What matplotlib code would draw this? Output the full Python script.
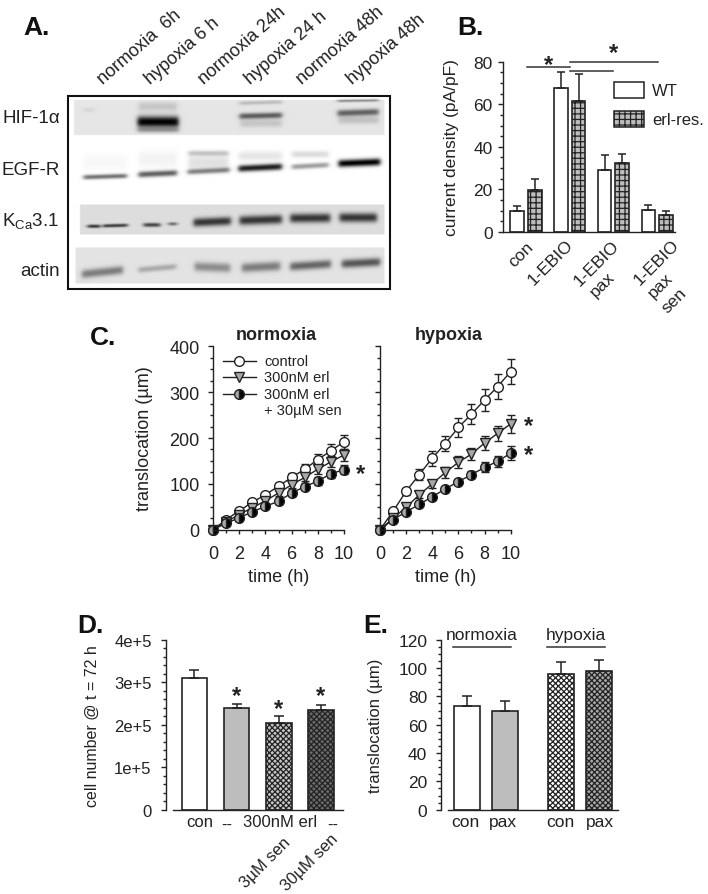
import numpy as np
import matplotlib
matplotlib.use("Agg")
import matplotlib.pyplot as plt
from matplotlib.ticker import MultipleLocator
from matplotlib.patches import Rectangle

plt.rcParams.update({
    "font.family": ["Liberation Sans", "DejaVu Sans"],
    "mathtext.fontset": "custom",
    "mathtext.rm": "Liberation Sans",
    "mathtext.default": "regular",
    "hatch.linewidth": 0.9,
    "text.color": "#222222",
    "axes.labelcolor": "#222222",
    "xtick.labelcolor": "#222222",
    "ytick.labelcolor": "#222222",
})

# ---------- data ----------
lane_labels = ["normoxia  6h", "hypoxia 6 h", "normoxia 24h", "hypoxia 24 h", "normoxia 48h", "hypoxia 48h"]
blot_labels = ["HIF-1\u03b1", "EGF-R", "K$_{Ca}$3.1", "actin"]

b_groups = ["con", "1-EBIO", "1-EBIO\npax", "1-EBIO\npax\nsen"]
b_wt = [9.8, 67.5, 29.0, 10.5]
b_wt_err = [2.4, 7.7, 7.0, 2.0]
b_res = [19.7, 61.6, 32.5, 7.8]
b_res_err = [5.3, 12.4, 4.1, 1.9]

c_time = np.arange(0, 11)
norm_control = [0, 22, 41, 60, 76, 95, 114, 132, 153, 172, 192]
norm_control_err = [0, 4, 4, 5, 6, 7, 9, 11, 12, 14, 15]
norm_erl = [0, 17, 33, 48, 63, 80, 98, 114, 132, 148, 163]
norm_erl_err = [0, 3, 4, 4, 5, 6, 7, 8, 10, 12, 14]
norm_sen = [0, 14, 26, 39, 51, 62, 80, 94, 106, 122, 131]
norm_sen_err = [0, 3, 3, 4, 4, 5, 6, 7, 8, 9, 10]
hyp_control = [0, 40, 84, 120, 156, 188, 223, 252, 283, 312, 345]
hyp_control_err = [0, 4, 8, 12, 16, 17, 20, 22, 24, 27, 28]
hyp_erl = [0, 25, 49, 76, 100, 125, 147, 165, 189, 210, 231]
hyp_erl_err = [0, 3, 5, 7, 9, 12, 13, 14, 15, 17, 20]
hyp_sen = [0, 22, 39, 55, 72, 89, 105, 120, 136, 149, 167]
hyp_sen_err = [0, 2, 3, 3, 4, 5, 6, 8, 11, 12, 15]

d_values = [3.10e5, 2.39e5, 2.05e5, 2.345e5]
d_errs = [0.19e5, 0.10e5, 0.15e5, 0.115e5]

e_labels = ["con", "pax", "con", "pax"]
e_values = [73, 70, 95.5, 98]
e_errs = [7, 6.5, 9, 7.5]

W, H = 708, 895
fig = plt.figure(figsize=(W / 100, H / 100), dpi=100, facecolor="white")
INK = "#222222"


def axes_px(l, t, r, b):
    ax = fig.add_axes([l / W, 1 - b / H, (r - l) / W, (b - t) / H])
    ax.patch.set_alpha(0)
    for s in ("top", "right"):
        ax.spines[s].set_visible(False)
    for s in ("left", "bottom"):
        ax.spines[s].set_linewidth(1.0)
        ax.spines[s].set_color(INK)
    return ax


def style_y(ax, major, minor, fs, pad):
    ax.yaxis.set_major_locator(MultipleLocator(major))
    ax.yaxis.set_minor_locator(MultipleLocator(minor))
    ax.tick_params(axis="y", which="major", length=3.6, width=1, labelsize=fs, pad=pad, color=INK)
    ax.tick_params(axis="y", which="minor", length=2, width=1, color=INK)


def idx_xlim(ax, first_center, spacing, left, right):
    ax.set_xlim((left - first_center) / spacing, (right - first_center) / spacing)


# ---------- overlay in pixel coordinates ----------
ov = fig.add_axes([0, 0, 1, 1], zorder=10)
ov.set_xlim(0, W)
ov.set_ylim(H, 0)
ov.axis("off")
ov.patch.set_alpha(0)


def label(x, y, s, fs=12, **kw):
    kw.setdefault("ha", "center")
    kw.setdefault("va", "center")
    ov.text(x, y, s, fontsize=fs, **kw)


def star(x, y, fs=17):
    em = fs / 0.72
    ov.text(x, y + 0.46 * em, "*", fontsize=fs, fontweight="bold", ha="center", va="baseline")


def panel(x, y, s):
    ov.text(x, y, s, fontsize=19, fontweight="bold", color="#111111", ha="left", va="baseline")


def rot(x, y, s, fs=12, ang=45):
    ov.text(x, y, s, fontsize=fs, rotation=ang, rotation_mode="anchor", ha="right", va="center")


for x, y, s in [(23, 35, "A."), (457, 35, "B."), (90, 345, "C."), (77, 633, "D."), (363, 633, "E.")]:
    panel(x, y, s)

# ---------- panel A: blot image ----------
yy, xx = np.mgrid[97:290:0.5, 68:390:0.5]
img = np.ones_like(xx)
# strip backgrounds: left, top, right, bottom (zoom units), grey
for l, t, r, b, g in [(222, 303, 1153, 407, 0.90), (239, 616, 1153, 705, 0.87), (226, 745, 1153, 852, 0.89)]:
    m = (xx >= l / 3) & (xx <= r / 3) & (yy >= t / 3) & (yy <= b / 3)
    img[m] = g

# bands: x0, x1, y at left, y at right, half height, darkness (zoom units)
bands = [
    (250, 280, 332, 332, 6, 0.08), (415, 530, 322, 322, 14, 0.14), (412, 535, 368, 368, 17, 1.0),
    (412, 535, 392, 392, 8, 0.3), (718, 845, 312, 308, 6, 0.18), (718, 845, 351, 348, 9, 0.6),
    (720, 845, 372, 372, 12, 0.14), (1012, 1135, 305, 303, 4, 0.4), (1012, 1135, 342, 338, 10, 0.58),
    (1015, 1135, 362, 362, 12, 0.16),
    (250, 380, 534, 530, 7, 0.55), (250, 380, 490, 490, 25, 0.03), (415, 530, 526, 521, 9, 0.62),
    (415, 530, 480, 480, 25, 0.05), (562, 688, 518, 512, 8, 0.48), (565, 685, 462, 462, 8, 0.22),
    (565, 685, 490, 490, 24, 0.12), (715, 845, 508, 502, 10, 0.88), (715, 845, 470, 470, 14, 0.1),
    (875, 985, 503, 497, 8, 0.38), (875, 985, 465, 465, 10, 0.14), (1015, 1140, 493, 488, 11, 1.0),
    (262, 300, 681, 681, 5, 0.8), (308, 382, 680, 678, 5, 0.75), (430, 480, 677, 677, 6, 0.7),
    (505, 530, 674, 674, 5, 0.55), (580, 692, 670, 665, 13, 0.76), (718, 845, 664, 660, 14, 0.76),
    (870, 990, 657, 656, 14, 0.76), (1018, 1130, 655, 655, 14, 0.76),
    (245, 368, 825, 812, 13, 0.45), (415, 528, 812, 802, 9, 0.25), (583, 690, 802, 806, 14, 0.38),
    (725, 840, 806, 800, 14, 0.45), (870, 992, 802, 794, 13, 0.55), (1025, 1140, 794, 788, 13, 0.62),
]
for x0, x1, y0, y1, h, dk in bands:
    x0, x1, y0, y1, h = x0 / 3, x1 / 3, y0 / 3, y1 / 3, h / 3
    yc = y0 + (y1 - y0) * (xx - x0) / (x1 - x0)
    sx = 0.5 * (np.tanh((xx - x0) / 2.5) - np.tanh((xx - x1) / 2.5))
    sy = np.exp(-np.abs((yy - yc) / h) ** 2.2)
    img *= 1 - dk * sx * sy

ov.imshow(img, cmap="gray", vmin=0, vmax=1, extent=(68, 390, 290, 97), aspect="auto",
          interpolation="bilinear", zorder=1)
ov.add_patch(Rectangle((68, 97), 321.5, 193, fill=False, ec="#111111", lw=1.5, zorder=3))
ov.set_xlim(0, W)
ov.set_ylim(H, 0)

for (x, y), s in zip([(103, 85), (150, 85), (204, 85), (250, 85), (302, 85), (352, 85)], lane_labels):
    ov.text(x, y, s, fontsize=13, rotation=41, rotation_mode="anchor", ha="left", va="baseline")
for (x, y), s in zip([(60, 118), (60, 170), (59, 221), (59.5, 271)], blot_labels):
    label(x, y, s, fs=13.5, ha="right")

# ---------- panel B ----------
axb = axes_px(502.7, 62.7, 675, 233)
axb.set_ylim(0, 80)
idx_xlim(axb, 526, 43.7, 502.7, 675)
style_y(axb, 20, 5, 12.5, 3.6)
axb.set_xticks([])
px = np.arange(len(b_groups))
off, bw = 8.8 / 43.7, 13.6 / 43.7
for vals, errs, sgn, fc, ht in [(b_wt, b_wt_err, -1, "white", None), (b_res, b_res_err, 1, "#bdbdbd", "+++")]:
    axb.bar(px + sgn * off, vals, bw, yerr=[np.zeros(4), errs], facecolor=fc, edgecolor=INK, linewidth=1.2,
            hatch=ht, error_kw=dict(ecolor=INK, elinewidth=1.1, capsize=3, capthick=1.1))
axb.set_ylabel("current density (pA/pF)", fontsize=12.5)
axb.yaxis.set_label_coords((459 - 502.7) / (675 - 502.7), 0.5)

for xa, xb_, y in [(527.3, 570, 68), (570, 657.7, 63.3), (570, 613.3, 71.7)]:
    ov.plot([xa, xb_], [y, y], color="#333333", lw=1.1)
star(548.3, 60.7)
star(613.3, 49)
ov.add_patch(Rectangle((614, 83.3), 30, 16, fc="white", ec=INK, lw=1.1))
ov.add_patch(Rectangle((614, 112.3), 30, 15.4, fc="#bdbdbd", ec=INK, lw=1.1, hatch="+++"))
label(652, 91, "WT", fs=12, ha="left")
label(652, 120.7, "erl-res.", fs=12, ha="left")
rot(531, 245, "con", fs=12.5)
rot(570.7, 243, "1-EBIO", fs=12.5)
rot(617, 244, "1-EBIO", fs=12.5)
rot(612.7, 275, "pax", fs=12.5)
rot(677, 243, "1-EBIO", fs=12.5)
rot(670.7, 275.6, "pax", fs=12.5)
rot(684, 291, "sen", fs=12.5)

# ---------- panel C ----------
styles = [
    dict(marker="o", mfc="white", mec=INK),
    dict(marker="v", mfc="#a8a8a8", mec=INK),
    dict(marker="o", mfc="black", mfcalt="#a8a8a8", mec=INK),
]


def marker_kw(st):
    kw = dict(marker=st["marker"], markerfacecolor=st["mfc"], markeredgecolor=st["mec"],
              markersize=7, markeredgewidth=1.0)
    if "mfcalt" in st:
        kw.update(fillstyle="right", markerfacecoloralt=st["mfcalt"])
    return kw


def draw_c(ax, series):
    ax.set_xlim(0, 10)
    ax.set_ylim(0, 400)
    ax.xaxis.set_major_locator(MultipleLocator(2))
    ax.xaxis.set_minor_locator(MultipleLocator(1))
    ax.tick_params(axis="x", which="major", length=3.2, width=1, labelsize=13, pad=7.5, color=INK)
    ax.tick_params(axis="x", which="minor", length=2, width=1, color=INK)
    style_y(ax, 100, 25, 13, 6)
    for (v, e), st in zip(series, styles):
        ax.errorbar(c_time, v, yerr=e, color=INK, lw=1, elinewidth=1, capsize=3.2, capthick=1, **marker_kw(st))
    for a in ax.get_children():
        a.set_clip_on(False)
    ax.set_xlabel("time (h)", fontsize=13)
    ax.xaxis.set_label_coords(0.5, -0.211)


axc1 = axes_px(213, 347.3, 344, 530.7)
draw_c(axc1, [(norm_control, norm_control_err), (norm_erl, norm_erl_err), (norm_sen, norm_sen_err)])
axc1.set_ylabel("translocation (\u00b5m)", fontsize=13)
axc1.yaxis.set_label_coords((153 - 213) / (344 - 213), 0.5)
axc2 = axes_px(380, 347.3, 510.7, 530.7)
draw_c(axc2, [(hyp_control, hyp_control_err), (hyp_erl, hyp_erl_err), (hyp_sen, hyp_sen_err)])
axc2.tick_params(axis="y", labelleft=False)

label(276, 335, "normoxia", fs=13, fontweight="bold")
label(449, 335, "hypoxia", fs=13, fontweight="bold")
for y, st, s in zip([362, 378, 395], styles, ["control", "300nM erl", "300nM erl"]):
    ov.plot([222.7, 256], [y, y], color=INK, lw=1, zorder=5)
    ov.plot([239], [y], color=INK, zorder=6, **marker_kw(st))
    label(264, y, s, fs=10.5, ha="left")
label(264, 410.7, "+ 30\u00b5M sen", fs=10.5, ha="left")
star(360, 470)
star(529, 421.7)
star(529, 450.7)

# ---------- panel D ----------
axd = axes_px(165.7, 640.7, 343, 810.7)
axd.set_ylim(0, 4e5)
idx_xlim(axd, 194.3, 42.3, 165.7, 343)
style_y(axd, 1e5, 2e4, 12, 6.5)
axd.set_yticks([0, 1e5, 2e5, 3e5, 4e5], ["0", "1e+5", "2e+5", "3e+5", "4e+5"])
axd.set_xticks([])
axd.spines["bottom"].set_bounds((172.7 - 194.3) / 42.3, axd.get_xlim()[1])
for i, (v, e, fc, ht) in enumerate(zip(d_values, d_errs, ["white", "#bdbdbd", "#c4c4c4", "#6a6a6a"],
                                       [None, None, "xxxxxx", "xxxxxx"])):
    axd.bar(i, v, 25.5 / 42.3, yerr=[[0], [e]], facecolor=fc, edgecolor=INK, linewidth=1.2, hatch=ht,
            error_kw=dict(ecolor=INK, elinewidth=1.1, capsize=3.4, capthick=1.1))
axd.set_ylabel("cell number @ t = 72 h", fontsize=11.5)
axd.yaxis.set_label_coords((100 - 165.7) / (343 - 165.7), 0.5)
label(200, 822.7, "con", fs=12)
label(226.7, 825, "--", fs=12)
label(280, 823, "300nM erl", fs=12)
label(333, 825, "--", fs=12)
rot(288, 840, "3\u00b5M sen", fs=12)
rot(336, 837, "30\u00b5M sen", fs=12)
star(236.7, 691.7)
star(278, 705)
star(320.7, 691.7)

# ---------- panel E ----------
axe = axes_px(440.7, 640.7, 617.7, 810.7)
axe.set_ylim(0, 120)
idx_xlim(axe, 467.2, 37.6, 440.7, 617.7)
style_y(axe, 20, 5, 12.5, 6)
axe.set_xticks([])
axe.spines["bottom"].set_bounds((448 - 467.2) / 37.6, axe.get_xlim()[1])
for xp, v, e, fc, ht in zip([0, 1, 2.5, 3.5], e_values, e_errs, ["white", "#bdbdbd", "white", "#a8a8a8"],
                            [None, None, "xxxxxx", "xxxxxx"]):
    axe.bar(xp, v, 26.5 / 37.6, yerr=[[0], [e]], facecolor=fc, edgecolor=INK, linewidth=1.2, hatch=ht,
            error_kw=dict(ecolor=INK, elinewidth=1.1, capsize=3.4, capthick=1.1))
axe.set_ylabel("translocation (\u00b5m)", fontsize=12)
axe.yaxis.set_label_coords((383 - 440.7) / (617.7 - 440.7), 0.5)
for x, s in zip([465, 503, 560, 600], e_labels):
    label(x, 822.7, s, fs=12.5)
label(481.7, 635.7, "normoxia", fs=12.5)
label(575.7, 635.7, "hypoxia", fs=12.5)
ov.plot([453.3, 510.7], [648.3, 648.3], color="#333333", lw=1.1)
ov.plot([547.3, 605], [648.3, 648.3], color="#333333", lw=1.1)

fig.savefig("out.png", dpi=100)
